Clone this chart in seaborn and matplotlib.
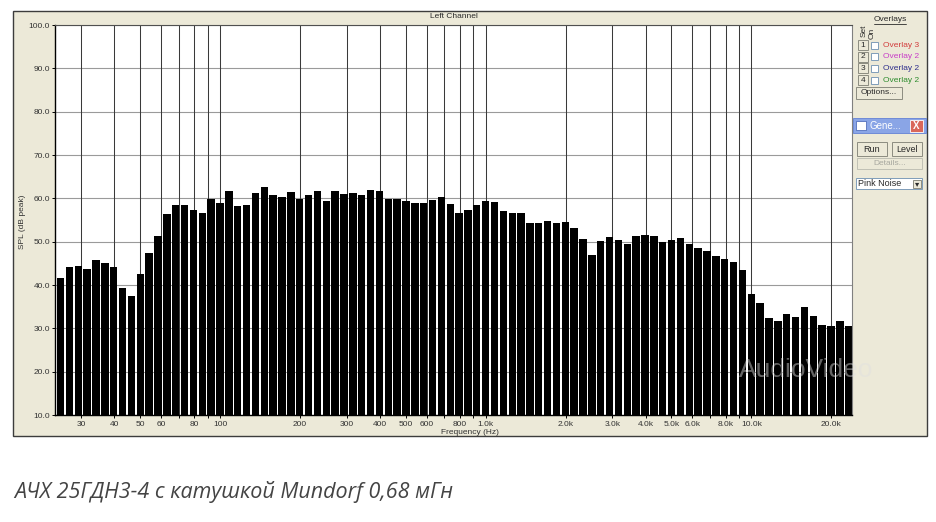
import numpy as np
import pandas as pd
import matplotlib
matplotlib.use("Agg")
import matplotlib.pyplot as plt
from matplotlib.patches import Rectangle
from matplotlib.lines import Line2D
from matplotlib.ticker import NullLocator, FixedLocator
import seaborn as sns

# band centres (Hz), 30 bands per decade, as shown on the analyser
band_freqs = [
    25.12, 27.12, 29.29, 31.62, 34.15, 36.87, 39.81, 42.99, 46.42,
    50.12, 54.12, 58.43, 63.10, 68.13, 73.56, 79.43, 85.77, 92.61,
    100.0, 108.0, 116.6, 125.9, 135.9, 146.8, 158.5, 171.1, 184.8, 199.5,
    215.4, 232.6, 251.2, 271.2, 292.9, 316.2, 341.5, 368.7, 398.1, 429.9,
    464.2, 501.2, 541.2, 584.3, 631.0, 681.3, 735.6, 794.3, 857.7, 926.1,
    1000, 1080, 1166, 1259, 1359, 1468, 1585, 1711, 1848, 1995,
    2154, 2326, 2512, 2712, 2929, 3162, 3415, 3687, 3981, 4299,
    4642, 5012, 5412, 5843, 6310, 6813, 7356, 7943, 8577, 9261,
    10000, 10800, 11660, 12590, 13590, 14680, 15850, 17110, 18480, 19950,
    21540, 23260,
]

# level per band, dB peak
spl_values = [
    41.7, 44.1, 44.4, 43.8, 45.8, 45.1, 44.1, 39.3, 37.5, 42.5,
    47.4, 51.2, 56.4, 58.5, 58.5, 57.2, 56.6, 59.9, 59.0, 61.6,
    58.2, 58.5, 61.2, 62.6, 60.8, 60.3, 61.5, 59.9, 60.8, 61.6,
    59.5, 61.7, 61.0, 61.3, 60.8, 61.9, 61.7, 59.8, 59.9, 59.5,
    58.9, 58.9, 59.7, 60.2, 58.7, 56.6, 57.4, 58.5, 59.4, 59.2,
    57.1, 56.6, 56.6, 54.3, 54.3, 54.8, 54.2, 54.5, 53.2, 50.7,
    47.0, 50.2, 51.0, 50.5, 49.4, 51.2, 51.5, 51.3, 49.9, 50.4,
    50.8, 49.4, 48.5, 47.8, 46.7, 46.0, 45.4, 43.5, 37.9, 35.9,
    32.3, 31.6, 33.3, 32.7, 34.9, 32.9, 30.8, 30.6, 31.6, 30.6,
]

grid_freqs = [30, 40, 50, 60, 70, 80, 90, 100, 200, 300, 400, 500, 600,
              700, 800, 900, 1000, 2000, 3000, 4000, 5000, 6000, 7000,
              8000, 9000, 10000, 20000]
grid_labels = ['30', '40', '50', '60', '', '80', '', '100', '200', '300',
               '400', '500', '600', '', '800', '', '1.0k', '2.0k', '3.0k',
               '4.0k', '5.0k', '6.0k', '', '8.0k', '', '10.0k', '20.0k']
spl_ticks = [10, 20, 30, 40, 50, 60, 70, 80, 90, 100]

overlay_names = ['Overlay 3', 'Overlay 2', 'Overlay 2', 'Overlay 2']
overlay_colors = ['#d23c3c', '#c83cc8', '#2e2e8c', '#2e8c2e']

caption = 'АЧХ 25ГДН3-4 с катушкой Mundorf 0,68 мГн'

W, H = 936, 522
sns.set_style('ticks')
plt.rcParams['font.family'] = ['Liberation Sans', 'DejaVu Sans']
ui = '#2a2a2a'
beige = '#ece9d8'


def fx(x):
    return x / W


def fy(y):
    return 1 - y / H


def box(fig, x0, y0, x1, y1, fc=beige, ec='#8c8c80', lw=0.7, z=2):
    fig.patches.append(Rectangle((fx(x0), fy(y1)), fx(x1) - fx(x0),
                                 fy(y0) - fy(y1), transform=fig.transFigure,
                                 facecolor=fc, edgecolor=ec, linewidth=lw,
                                 zorder=z))


def label(fig, x, y, s, **kw):
    kw.setdefault('fontsize', 6)
    kw.setdefault('color', ui)
    kw.setdefault('va', 'center')
    fig.text(fx(x), fy(y), s, **kw)


fig = plt.figure(figsize=(W / 100, H / 100), dpi=100, facecolor='white')

# analyser window frame (behind the axes)
box(fig, 13, 11, 927, 436, fc=beige, ec='#3c3c3c', lw=1, z=-1)

ax = fig.add_axes([fx(55), fy(415), fx(852) - fx(55), fy(25) - fy(415)])
ax.set_facecolor('white')

df = pd.DataFrame({'freq': band_freqs, 'spl': spl_values})
sns.barplot(data=df, x='freq', y='spl', native_scale=True,
            log_scale=(True, False), color='black', saturation=1,
            width=0.84, errorbar=None, edgecolor='none', linewidth=0,
            ax=ax, zorder=2)

ax.set_xlim(10 ** 1.379, 10 ** 4.379)
ax.set_ylim(10, 100)
ax.xaxis.set_major_locator(FixedLocator(grid_freqs))
ax.xaxis.set_minor_locator(NullLocator())
ax.set_xticklabels(grid_labels)
ax.set_yticks(spl_ticks)
ax.set_yticklabels(['%.1f' % v for v in spl_ticks])
ax.tick_params(axis='both', labelsize=6, labelcolor='#333333',
               length=2, width=0.7, pad=1.5, color='black')
ax.tick_params(axis='x', pad=2)

for v in spl_ticks:
    ax.axhline(v, color='#9a9a9a', lw=0.8, zorder=1)
for f in grid_freqs:
    ax.axvline(f, color='#3a3a3a', lw=0.75, zorder=1)

for side in ['left', 'bottom']:
    ax.spines[side].set_color('black')
    ax.spines[side].set_linewidth(1)
ax.spines['top'].set_color('#505050')
ax.spines['right'].set_color('#808080')

ax.set_xlabel('Frequency (Hz)', fontsize=6, color='#333333')
ax.set_ylabel('SPL (dB peak)', fontsize=6, color='#333333')
ax.xaxis.set_label_coords((470 - 55) / 797, (415 - 432) / 390)
ax.yaxis.set_label_coords((22 - 55) / 797, (415 - 222) / 390)
ax.xaxis.label.set_va('center')
ax.yaxis.label.set_va('center')

label(fig, 454, 17, 'Left Channel', ha='center')

# overlays panel
label(fig, 890, 19.5, 'Overlays', ha='center')
fig.lines.append(Line2D([fx(874), fx(906)], [fy(24), fy(24)],
                        transform=fig.transFigure, color=ui, lw=0.6))
label(fig, 864, 31, 'Set', ha='center', rotation=90)
label(fig, 872, 33, 'On', ha='center', rotation=90)
for i, (name, col) in enumerate(zip(overlay_names, overlay_colors)):
    y = 45 + i * 11.7
    box(fig, 858, y - 5, 868, y + 5)
    label(fig, 863, y, str(i + 1), ha='center')
    box(fig, 871, y - 3.5, 878, y + 3.5, fc='white', ec='#7f9db9')
    label(fig, 883, y, name, ha='left', color=col)
box(fig, 856, 87, 902, 99)
label(fig, 879, 93, 'Options...', ha='center')

# signal generator window
box(fig, 853, 118, 926, 133, fc='#8aa5e6', ec='#6f8bd6', lw=0.7)
box(fig, 856, 121, 866, 130, fc='white', ec='#3c5cb0', lw=0.5, z=3)
label(fig, 869, 126, 'Gene...', ha='left', color='white', fontsize=7)
box(fig, 910, 120, 923, 132, fc='#d9675a', ec='white', lw=0.6, z=3)
label(fig, 916.5, 126, 'X', ha='center', color='white', fontsize=7,
      fontweight='bold')
box(fig, 857, 142, 887, 156)
label(fig, 872, 149, 'Run', ha='center', fontsize=6.5)
box(fig, 892, 142, 922, 156)
label(fig, 907, 149, 'Level', ha='center', fontsize=6.5)
box(fig, 857, 158, 922, 169, ec='#c0c0b4')
label(fig, 889.5, 163.5, 'Details...', ha='center', color='#a8a8a0')
box(fig, 856, 178, 922, 189, fc='white', ec='#7f9db9')
label(fig, 858, 183.5, 'Pink Noise', ha='left', fontsize=6.5)
box(fig, 913, 180, 921, 188, z=3)
label(fig, 917, 184, '▾', ha='center', fontsize=6, family='DejaVu Sans')

# site watermark
label(fig, 806, 370, 'AudioVideo', ha='center', fontsize=19,
      color='#e0e0e0', alpha=0.45)

label(fig, 14, 492, caption, ha='left', fontsize=15.5, style='italic',
      color='#444444', family=['Open Sans', 'DejaVu Sans'])

fig.savefig('out.png', dpi=100, facecolor='white')
